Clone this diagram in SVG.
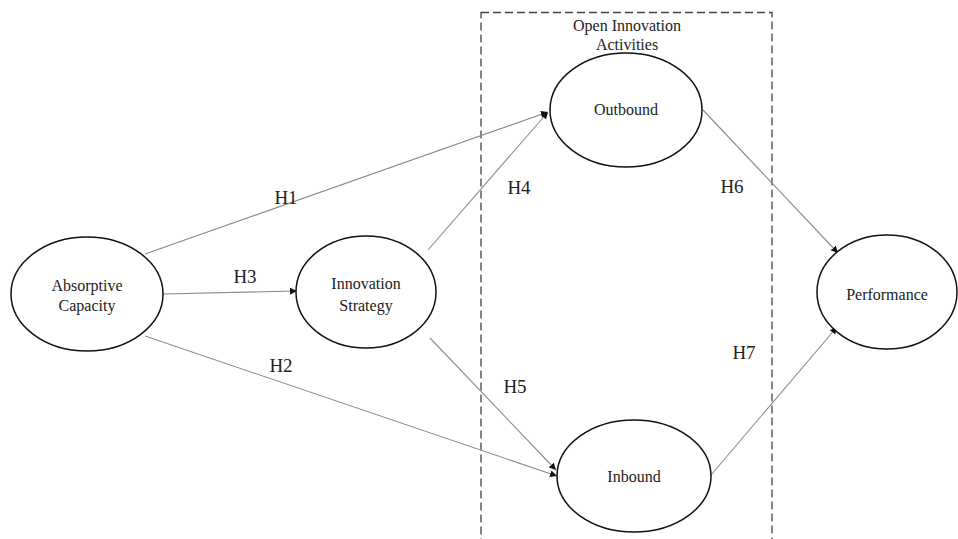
<svg xmlns="http://www.w3.org/2000/svg" width="958" height="539" viewBox="0 0 958 539">
<style>
.node ellipse{fill:#fff;stroke:#111;stroke-width:1.5}
.nt{font-family:"Liberation Serif","Times New Roman",serif;font-size:16px;fill:#222;text-anchor:middle}
.lbl{font-family:"Liberation Serif","Times New Roman",serif;font-size:19px;fill:#222;text-anchor:middle}
.conn line{stroke:#8a8a8a;stroke-width:1.1;marker-end:url(#ah)}
</style>
<defs>
<marker id="ah" viewBox="0 0 10 10" refX="10" refY="5" markerWidth="7" markerHeight="7" markerUnits="userSpaceOnUse" orient="auto">
<path d="M0,0 L10,5 L0,10 z" fill="#111"/>
</marker>
</defs>
<rect x="0" y="0" width="958" height="539" fill="#fff"/>
<g id="group-open-innovation">
<rect x="481" y="12.5" width="291" height="540" fill="none" stroke="#444" stroke-width="1.3" stroke-dasharray="8,4"/>
<text class="nt" x="627" y="31">Open Innovation</text>
<text class="nt" x="627" y="50">Activities</text>
</g>
<g id="connectors" class="conn">
<line x1="145" y1="254" x2="548" y2="112"/>
<line x1="163" y1="294" x2="297" y2="291"/>
<line x1="145" y1="336" x2="557" y2="476"/>
<line x1="428" y1="250" x2="548" y2="112"/>
<line x1="430" y1="338" x2="556" y2="470"/>
<line x1="703" y1="110" x2="838" y2="253"/>
<line x1="711" y1="475" x2="837" y2="327"/>
</g>
<g id="labels">
<text class="lbl" x="286" y="204">H1</text>
<text class="lbl" x="245" y="283">H3</text>
<text class="lbl" x="281" y="372">H2</text>
<text class="lbl" x="519" y="194">H4</text>
<text class="lbl" x="515" y="393">H5</text>
<text class="lbl" x="732" y="193">H6</text>
<text class="lbl" x="744" y="359">H7</text>
</g>
<g id="absorptive-capacity" class="node">
<ellipse cx="87" cy="294" rx="76" ry="57"/>
<text class="nt" x="87" y="291">Absorptive</text>
<text class="nt" x="87" y="311">Capacity</text>
</g>
<g id="innovation-strategy" class="node">
<ellipse cx="366" cy="292" rx="70" ry="56"/>
<text class="nt" x="366" y="289">Innovation</text>
<text class="nt" x="366" y="311">Strategy</text>
</g>
<g id="outbound" class="node">
<ellipse cx="626" cy="110" rx="76" ry="57"/>
<text class="nt" x="626" y="115">Outbound</text>
</g>
<g id="inbound" class="node">
<ellipse cx="634" cy="476" rx="77" ry="56"/>
<text class="nt" x="634" y="482">Inbound</text>
</g>
<g id="performance" class="node">
<ellipse cx="887" cy="292" rx="70" ry="57"/>
<text class="nt" x="887" y="300">Performance</text>
</g>
</svg>
